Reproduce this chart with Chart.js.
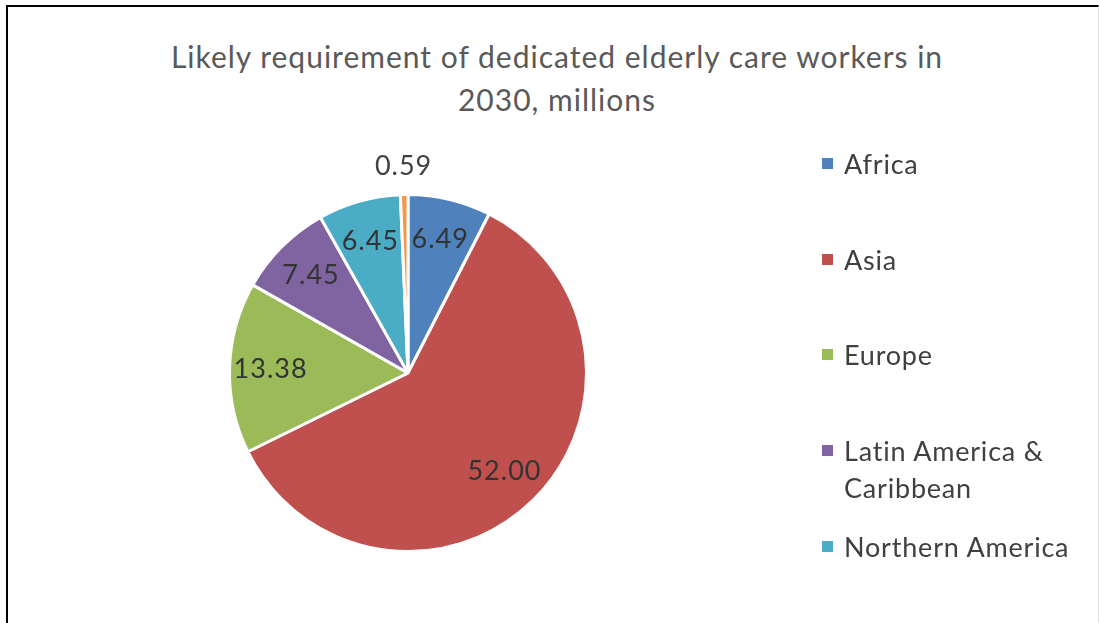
<!DOCTYPE html>
<html>
<head>
<meta charset="utf-8">
<script src="https://cdn.jsdelivr.net/npm/chart.js@4/dist/chart.umd.min.js"></script>
<style>
  html, body { margin: 0; padding: 0; background: #fff; }
  #wrap { position: relative; width: 1100px; height: 623px; overflow: hidden; font-family: Lato, "Open Sans", sans-serif; }
  #frame { position: absolute; left: 6px; top: 5px; width: 1090px; height: 640px;
           border-left: 2px solid #000; border-top: 2px solid #000; border-right: 1px solid #e4e4e4; }
  #title { position: absolute; left: 0; width: 1114px; top: 35px; text-align: center;
           font-size: 30px; letter-spacing: 1px; line-height: 43px; color: #595959; }
  #chart { position: absolute; left: 0; top: 0; }
  #legend { position: absolute; left: 822px; top: 0; }
  .item { position: absolute; left: 0; width: 278px; font-size: 27px; letter-spacing: 0.8px; line-height: 37px; color: #404040; }
  .item .box { position: absolute; left: 0; top: 13px; width: 11px; height: 11px; }
  .item .txt { margin-left: 22px; width: 250px; }
</style>
</head>
<body>
<div id="wrap">
  <div id="frame"></div>
  <div id="title">Likely requirement of dedicated elderly care workers in<br>2030, millions</div>
  <canvas id="chart" width="1100" height="623"></canvas>
  <div id="legend"></div>
</div>
<script>
// chart data
const regions = ["Africa", "Asia", "Europe", "Latin America & Caribbean", "Northern America", "Oceania"];
const workers = [6.49, 52.00, 13.38, 7.45, 6.45, 0.59];
const colors = ["#4F81BD", "#C0504D", "#9BBB59", "#8064A2", "#4BACC6", "#F79646"];
const legendShown = 5; // the last entry is cut off in the original

// legend, built from the arrays
const legendEl = document.getElementById("legend");
for (let i = 0; i < legendShown; i++) {
    const row = document.createElement("div");
    row.className = "item";
    row.style.top = (145 + i * 95.7) + "px";
    row.innerHTML = '<span class="box" style="background:' + colors[i] + '"></span><div class="txt">' + regions[i] + '</div>';
    legendEl.appendChild(row);
}

// value labels on the slices
const sliceLabels = {
    id: "sliceLabels",
    afterDatasetsDraw(chart) {
        const ctx = chart.ctx;
        const meta = chart.getDatasetMeta(0);
        const total = workers.reduce((a, b) => a + b, 0);
        ctx.save();
        ctx.font = "27px Lato, 'Open Sans', sans-serif";
        ctx.letterSpacing = "1px";
        ctx.textAlign = "center";
        ctx.textBaseline = "middle";
        meta.data.forEach((arc, i) => {
            const p = arc.getProps(["x", "y", "startAngle", "endAngle", "outerRadius"], true);
            const mid = (p.startAngle + p.endAngle) / 2;
            const small = workers[i] / total < 0.02;
            const r = small ? p.outerRadius + 28 : p.outerRadius * 0.77;
            ctx.fillStyle = small ? "#404040" : "#333333";
            ctx.fillText(workers[i].toFixed(2), p.x + Math.cos(mid) * r, p.y + Math.sin(mid) * r);
        });
        ctx.restore();
    }
};

new Chart(document.getElementById("chart"), {
    type: "pie",
    data: {
        labels: regions,
        datasets: [{ data: workers, backgroundColor: colors, borderColor: "#fff", borderWidth: 3 }]
    },
    options: {
        responsive: false,
        animation: false,
        layout: { padding: { top: 193, bottom: 70, left: 0, right: 284 } },
        plugins: { legend: { display: false }, title: { display: false }, tooltip: { enabled: false } }
    },
    plugins: [sliceLabels]
});
</script>
</body>
</html>
